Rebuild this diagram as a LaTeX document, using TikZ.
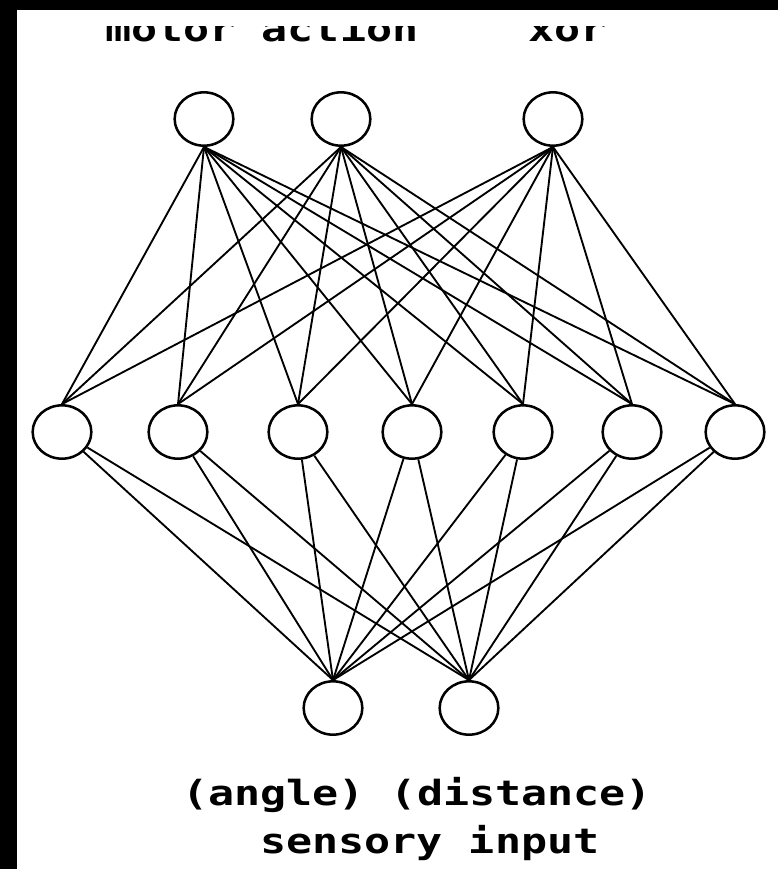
\documentclass[tikz,border=0pt]{standalone}
\usepackage{fontspec}
\usetikzlibrary{shapes.geometric}
\newfontfamily\pixfont[FakeStretch=1.25]{DejaVu Sans Mono}
\tikzset{
  unit/.style={draw=black,ellipse,line width=1.9pt,minimum width=44pt,minimum height=40pt,inner sep=0pt},
  link/.style={black,line width=1.4pt},
  caption/.style={anchor=base west,inner sep=0pt,font=\pixfont\bfseries\fontsize{26pt}{30pt}\selectfont}
}
\begin{document}
\begin{tikzpicture}[x=0.75pt,y=-0.75pt]
\useasboundingbox (0,0) rectangle (778,869);
\fill[black] (0,0) rectangle (17,869);
\fill[black] (0,0) rectangle (778,10);
% cut-off labels on top
\begin{scope}
\clip (17,26) rectangle (778,60);
\node[caption] (lmotor) at (105,41) {motor action};
\node[caption] (lxor) at (528,41) {xor};
\end{scope}
% output layer
\node[unit] (t1) at (204,119) {};
\node[unit] (t2) at (341,119) {};
\node[unit] (t3) at (553,119) {};
% hidden layer
\node[unit] (h1) at (62,432) {};
\node[unit] (h2) at (178,432) {};
\node[unit] (h3) at (298,432) {};
\node[unit] (h4) at (412,432) {};
\node[unit] (h5) at (523,432) {};
\node[unit] (h6) at (632,432) {};
\node[unit] (h7) at (735,432) {};
% input layer
\node[unit] (b1) at (333,708) {};
\node[unit] (b2) at (469,708) {};
% output to hidden
\draw[link] (t1.south) -- (h1.north);
\draw[link] (t1.south) -- (h2.north);
\draw[link] (t1.south) -- (h3.north);
\draw[link] (t1.south) -- (h4.north);
\draw[link] (t1.south) -- (h5.north);
\draw[link] (t1.south) -- (h6.north);
\draw[link] (t1.south) -- (h7.north);
\draw[link] (t2.south) -- (h1.north);
\draw[link] (t2.south) -- (h2.north);
\draw[link] (t2.south) -- (h3.north);
\draw[link] (t2.south) -- (h4.north);
\draw[link] (t2.south) -- (h5.north);
\draw[link] (t2.south) -- (h6.north);
\draw[link] (t2.south) -- (h7.north);
\draw[link] (t3.south) -- (h1.north);
\draw[link] (t3.south) -- (h2.north);
\draw[link] (t3.south) -- (h3.north);
\draw[link] (t3.south) -- (h4.north);
\draw[link] (t3.south) -- (h5.north);
\draw[link] (t3.south) -- (h6.north);
\draw[link] (t3.south) -- (h7.north);
% hidden to input
\draw[link] (h1) -- (b1.north);
\draw[link] (h1) -- (b2.north);
\draw[link] (h2) -- (b1.north);
\draw[link] (h2) -- (b2.north);
\draw[link] (h3) -- (b1.north);
\draw[link] (h3) -- (b2.north);
\draw[link] (h4) -- (b1.north);
\draw[link] (h4) -- (b2.north);
\draw[link] (h5) -- (b1.north);
\draw[link] (h5) -- (b2.north);
\draw[link] (h6) -- (b1.north);
\draw[link] (h6) -- (b2.north);
\draw[link] (h7) -- (b1.north);
\draw[link] (h7) -- (b2.north);
% input labels
\node[caption] (lsense) at (182,805) {(angle) (distance)};
\node[caption] (linput) at (260,853) {sensory input};
\end{tikzpicture}
\end{document}
